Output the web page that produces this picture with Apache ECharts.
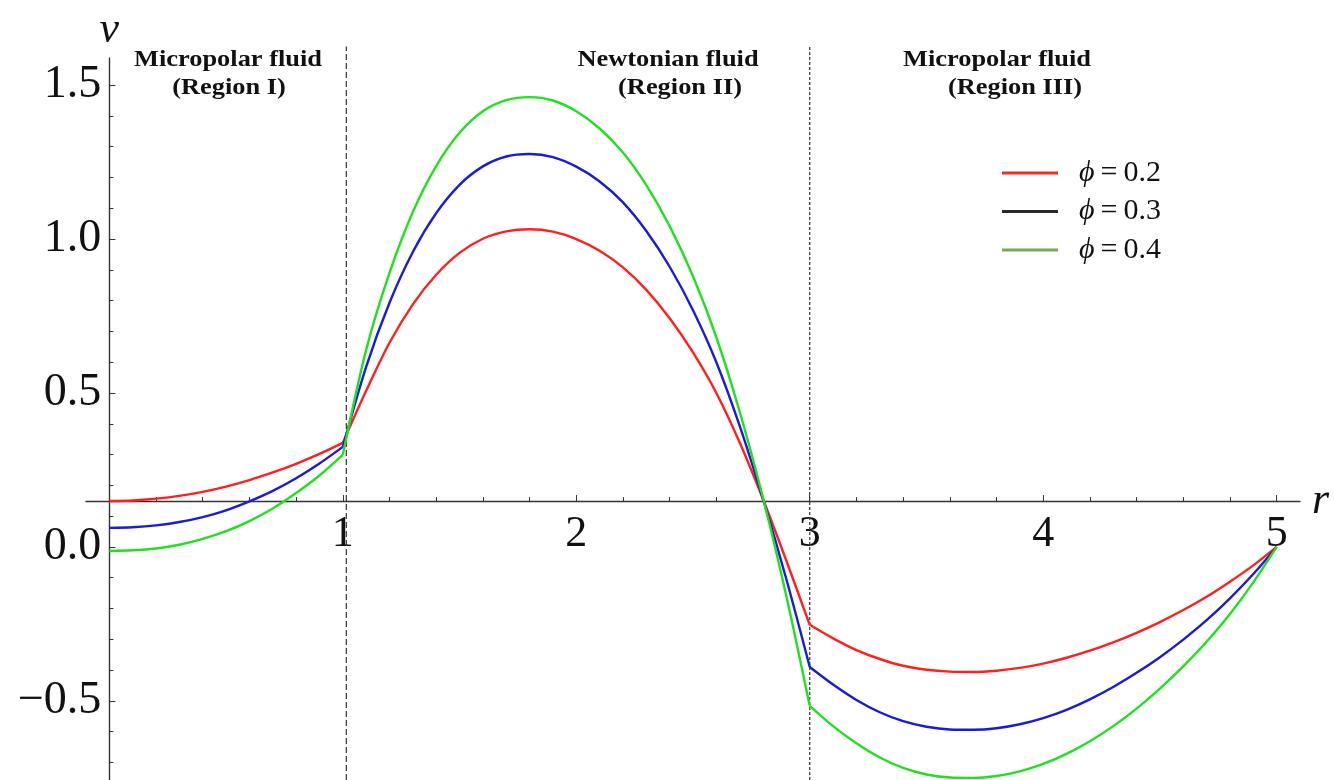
<!DOCTYPE html>
<html><head><meta charset="utf-8">
<script src="https://cdn.jsdelivr.net/npm/echarts@6/dist/echarts.min.js"></script>
<style>html,body{margin:0;padding:0;background:#fff}#c{width:1334px;height:780px}</style>
</head><body><div id="c"></div>
<script>
// ---------- data ----------
const seriesNames = ['ϕ=0.2', 'ϕ=0.3', 'ϕ=0.4'];
const curveColors = ['#ff1f1f', '#1a1ad8', '#20e020'];
const legendColors = ['#e8302a', '#2a2a2a', '#7aa658'];

const rRegion1 = [0, 0.1, 0.2, 0.3, 0.4, 0.5, 0.6, 0.7, 0.8, 0.9, 1.0];
const vRegion1Phi02 = [0.149, 0.151, 0.157, 0.166, 0.179, 0.196, 0.217, 0.242, 0.270, 0.302, 0.338];
const vRegion1Phi03 = [0.062, 0.064, 0.070, 0.081, 0.097, 0.119, 0.148, 0.182, 0.223, 0.271, 0.325];
const vRegion1Phi04 = [-0.013, -0.011, -0.005, 0.007, 0.026, 0.051, 0.084, 0.125, 0.175, 0.232, 0.299];

const rRegion2 = [1.0, 1.1, 1.2, 1.3, 1.4, 1.5, 1.6, 1.7, 1.8, 1.9, 2.0, 2.1, 2.2, 2.3, 2.4, 2.5, 2.6, 2.7, 2.8, 2.9, 3.0];
const vRegion2Phi02 = [0.338, 0.507, 0.663, 0.788, 0.884, 0.955, 1.001, 1.025, 1.032, 1.024, 1.000, 0.962, 0.908, 0.835, 0.743, 0.632, 0.500, 0.339, 0.155, -0.045, -0.253];
const vRegion2Phi03 = [0.325, 0.585, 0.793, 0.958, 1.084, 1.176, 1.236, 1.268, 1.276, 1.266, 1.235, 1.187, 1.119, 1.026, 0.910, 0.769, 0.600, 0.393, 0.155, -0.105, -0.390];
const vRegion2Phi04 = [0.299, 0.640, 0.890, 1.088, 1.237, 1.345, 1.415, 1.451, 1.461, 1.450, 1.415, 1.359, 1.281, 1.175, 1.042, 0.879, 0.681, 0.439, 0.159, -0.160, -0.516];

const rRegion3 = [3.0, 3.1, 3.2, 3.3, 3.4, 3.5, 3.6, 3.7, 3.8, 3.9, 4.0, 4.1, 4.2, 4.3, 4.4, 4.5, 4.6, 4.7, 4.8, 4.9, 5.0];
const vRegion3Phi02 = [-0.253, -0.297, -0.335, -0.364, -0.386, -0.399, -0.405, -0.406, -0.402, -0.393, -0.379, -0.360, -0.337, -0.310, -0.279, -0.244, -0.205, -0.162, -0.113, -0.060, 0];
const vRegion3Phi03 = [-0.390, -0.447, -0.497, -0.537, -0.566, -0.584, -0.593, -0.594, -0.589, -0.576, -0.556, -0.529, -0.495, -0.455, -0.409, -0.358, -0.301, -0.238, -0.167, -0.088, 0];
const vRegion3Phi04 = [-0.516, -0.582, -0.638, -0.684, -0.718, -0.739, -0.749, -0.750, -0.744, -0.729, -0.705, -0.672, -0.631, -0.582, -0.525, -0.460, -0.388, -0.308, -0.218, -0.115, 0];

const xMajorTicks = [1, 2, 3, 4, 5];
const xMinorTicks = [0.2, 0.4, 0.6, 0.8, 1.2, 1.4, 1.6, 1.8, 2.2, 2.4, 2.6, 2.8, 3.2, 3.4, 3.6, 3.8, 4.2, 4.4, 4.6, 4.8];
const yMajorTicks = [-0.5, 0, 0.5, 1.0, 1.5];
const yMinorTicks = [-0.7, -0.6, -0.4, -0.3, -0.2, -0.1, 0.1, 0.2, 0.3, 0.4, 0.6, 0.7, 0.8, 0.9, 1.1, 1.2, 1.3, 1.4];
const xRange = [-0.1, 5.1];
const yRange = [-0.757, 1.588];
const yAxisCrossR = 0;               // r-level where the v-axis is drawn
const xAxisCrossV = 0.149;           // v-level where the r-axis is drawn
const interfaceR = [1.015, 3.0];     // dashed interface lines
const interfaceV = [-0.757, 1.625];

const regionTexts = [
  ['Micropolar fluid', '(Region I)'],
  ['Newtonian fluid', '(Region II)'],
  ['Micropolar fluid', '(Region III)']
];

// ---------- layout ----------
const W = 1334, H = 780;
const gridBox = { left: 86, right: 34, top: 58, bottom: 0 };
const plotW = W - gridBox.left - gridBox.right;
const plotH = H - gridBox.top - gridBox.bottom;
const yAxisOffset = -(yAxisCrossR - xRange[0]) / (xRange[1] - xRange[0]) * plotW;
const xAxisOffset = -(xAxisCrossV - yRange[0]) / (yRange[1] - yRange[0]) * plotH;

// ---------- build ----------
const serif = '"Liberation Serif", "Times New Roman", serif';
const regions = [
  [rRegion1, [vRegion1Phi02, vRegion1Phi03, vRegion1Phi04]],
  [rRegion2, [vRegion2Phi02, vRegion2Phi03, vRegion2Phi04]],
  [rRegion3, [vRegion3Phi02, vRegion3Phi03, vRegion3Phi04]]
];
const series = [];
regions.forEach(([rs, vsets]) => {
  vsets.forEach((vs, k) => {
    series.push({
      type: 'line', name: seriesNames[k], xAxisIndex: 0, yAxisIndex: 0,
      data: rs.map((r, i) => [r, vs[i]]),
      symbol: 'none', smooth: 0.3, clip: false,
      lineStyle: { color: curveColors[k], width: 2.4 },
      itemStyle: { color: curveColors[k] },
      z: 3
    });
  });
});
const dashTypes = [[6, 3], [3, 2]];
interfaceR.forEach((r, i) => {
  series.push({
    type: 'line', name: 'interface' + i, xAxisIndex: 0, yAxisIndex: 0,
    data: interfaceV.map(v => [r, v]), symbol: 'none', clip: false, silent: true,
    lineStyle: { color: '#333', width: 1.2, type: dashTypes[i] }, z: 2
  });
});

const graphic = [];
const textPos = [[228, 229], [668, 680], [997, 1015]];
regionTexts.forEach((pair, i) => {
  pair.forEach((t, j) => {
    graphic.push({
      type: 'text', x: textPos[i][j], y: j === 0 ? 60 : 88, scaleX: 1.1,
      style: { text: t, font: 'bold 24px ' + serif, fill: '#111', textAlign: 'center', textVerticalAlign: 'middle' }
    });
  });
});

const axisColor = '#333';
const option = {
  animation: false,
  backgroundColor: '#fff',
  grid: Object.assign({ containLabel: false, outerBoundsMode: 'none' }, gridBox),
  legend: {
    orient: 'vertical', left: 997, top: 153, itemWidth: 56, itemHeight: 3, itemGap: 8.5,
    icon: 'rect',
    data: seriesNames.map((n, k) => ({ name: n, itemStyle: { color: legendColors[k] } })),
    formatter: n => '{i|ϕ}{n|\u2009=\u2009' + n.slice(2) + '}',
    textStyle: {
      padding: [0, 0, 0, 16], lineHeight: 30,
      rich: {
        i: { fontFamily: serif, fontStyle: 'italic', fontSize: 30, color: '#111' },
        n: { fontFamily: serif, fontSize: 30, color: '#111' }
      }
    },
    selectedMode: false
  },
  xAxis: [
    {
      type: 'value', min: xRange[0], max: xRange[1], position: 'bottom', offset: xAxisOffset,
      axisLine: { show: true, onZero: false, lineStyle: { color: axisColor, width: 1.4 } },
      axisTick: { show: true, inside: true, length: 6, customValues: xMajorTicks, lineStyle: { color: axisColor, width: 1 } },
      axisLabel: { customValues: xMajorTicks, fontFamily: serif, fontSize: 44, color: '#111', margin: 11 },
      splitLine: { show: false },
      name: 'r', nameLocation: 'end', nameGap: 12,
      nameTextStyle: { fontFamily: serif, fontStyle: 'italic', fontSize: 44, color: '#111' }
    },
    {
      type: 'value', min: xRange[0], max: xRange[1], position: 'bottom', offset: xAxisOffset,
      axisLine: { show: false, onZero: false },
      axisTick: { show: true, inside: true, length: 4, customValues: xMinorTicks, lineStyle: { color: axisColor, width: 1 } },
      axisLabel: { show: false }, splitLine: { show: false }
    }
  ],
  yAxis: [
    {
      type: 'value', min: yRange[0], max: yRange[1], position: 'left', offset: yAxisOffset,
      axisLine: { show: true, onZero: false, lineStyle: { color: axisColor, width: 1.4 } },
      axisTick: { show: true, inside: true, length: 6, customValues: yMajorTicks, lineStyle: { color: axisColor, width: 1 } },
      axisLabel: {
        customValues: yMajorTicks, fontFamily: serif, fontSize: 46, color: '#111', margin: 8,
        formatter: v => (v < 0 ? '\u2212' : '') + Math.abs(v).toFixed(1)
      },
      splitLine: { show: false },
      name: 'v', nameLocation: 'end', nameGap: 6,
      nameTextStyle: { fontFamily: serif, fontStyle: 'italic', fontSize: 44, color: '#111' }
    },
    {
      type: 'value', min: yRange[0], max: yRange[1], position: 'left', offset: yAxisOffset,
      axisLine: { show: false, onZero: false },
      axisTick: { show: true, inside: true, length: 4, customValues: yMinorTicks, lineStyle: { color: axisColor, width: 1 } },
      axisLabel: { show: false }, splitLine: { show: false }
    }
  ],
  graphic: graphic,
  series: series
};
const chart = echarts.init(document.getElementById('c'), null, { renderer: 'canvas' });
chart.setOption(option);
</script>
</body></html>
